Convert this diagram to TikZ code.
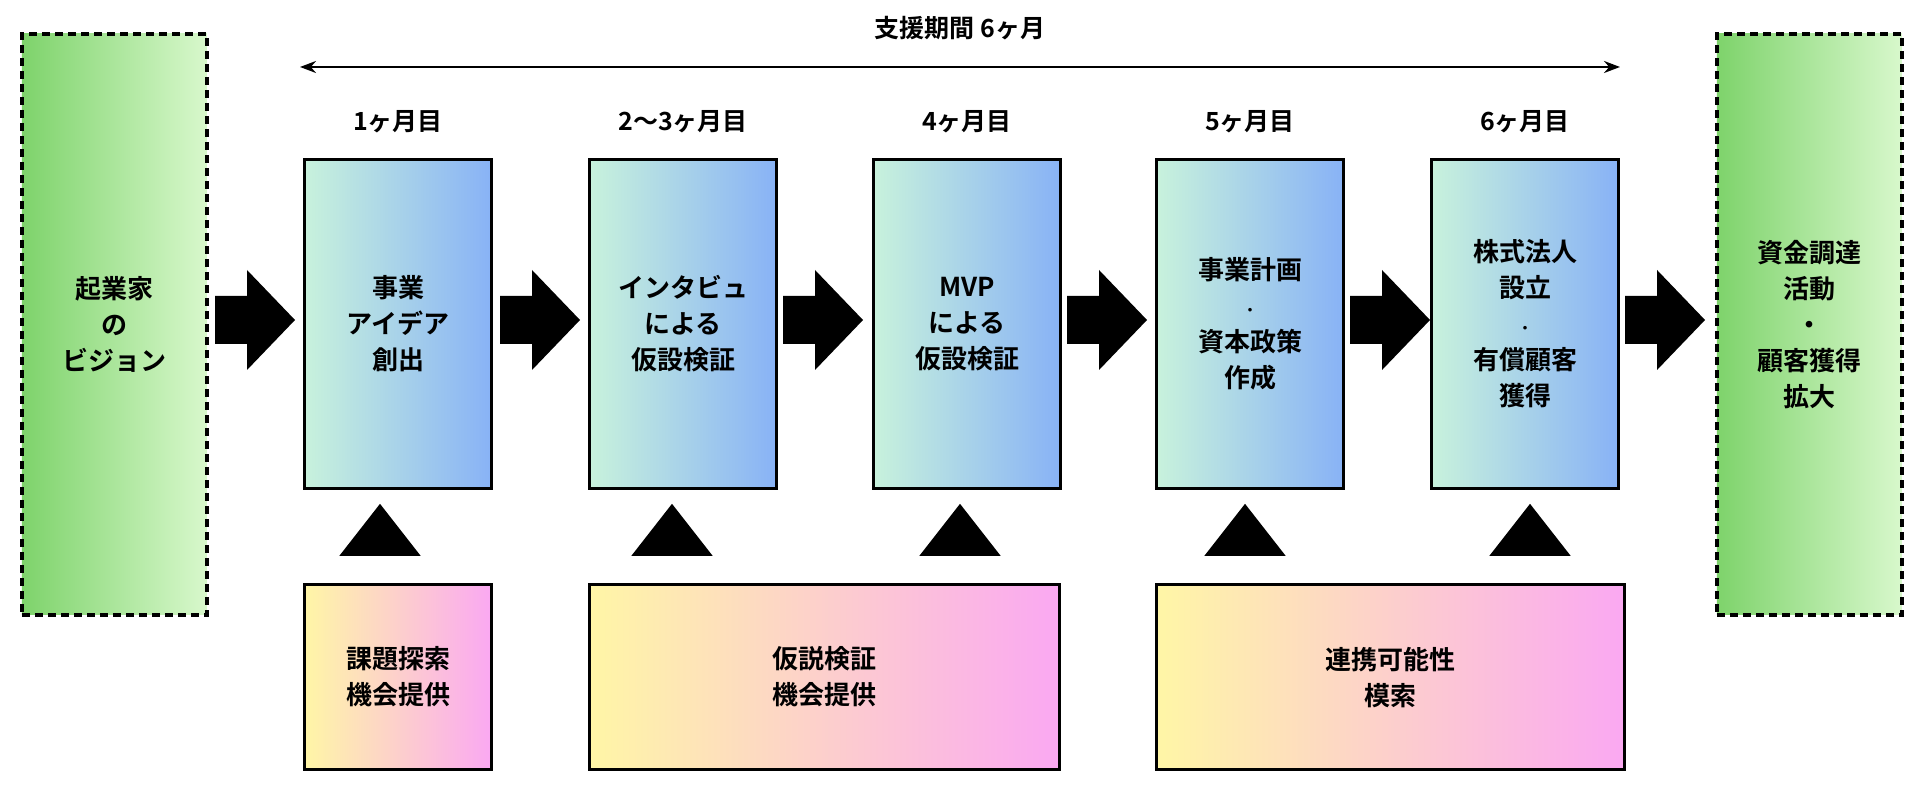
\documentclass[tikz,border=0pt]{standalone}
\usepackage{fontspec}
\setmainfont{Noto Sans CJK JP}[BoldFont={* Bold}]
\usetikzlibrary{shapes.geometric,arrows.meta}
\definecolor{gdark}{HTML}{7ED36B}\definecolor{glight}{HTML}{D8F8CC}
\definecolor{bl}{HTML}{C8F2DC}\definecolor{br}{HTML}{88B2F6}
\definecolor{yl}{HTML}{FFF6A6}\definecolor{pk}{HTML}{FAA8F2}
\begin{document}
\begin{tikzpicture}[x=0.5pt,y=-0.5pt,font=\bfseries\fontsize{13}{18}\selectfont,
 gbox/.style={draw,dash pattern=on 4pt off 2.5pt,line width=1.8pt,left color=gdark,right color=glight,minimum width=92.5pt,minimum height=290.5pt,align=center,anchor=north west},
 bbox/.style={draw,line width=1.6pt,left color=bl,right color=br,minimum width=93.5pt,minimum height=164.5pt,align=center,anchor=north west},
 ybox/.style={draw,line width=1.6pt,left color=yl,right color=pk,minimum height=92.5pt,align=center,anchor=north west},
 tri/.style={isosceles triangle,shape border rotate=90,fill=black,minimum width=40pt,minimum height=26pt,isosceles triangle apex angle=76,inner sep=0pt},
 lab/.style={font=\bfseries\fontsize{12.5}{14}\selectfont}]
\useasboundingbox (0,0) rectangle (1920,785);
\node[gbox] (L) at (20,32) {起業家\\の\\ビジョン};
\node[gbox] (R) at (1715,32) {資金調達\\活動\\・\\顧客獲得\\拡大};
\coordinate (ta) at (300,67); \coordinate (tb) at (1620,67);
\draw[{Stealth[length=8pt]}-{Stealth[length=8pt]},line width=1.2pt] (ta) -- (tb);
\node[lab] (tt) at (960,28) {支援期間 6ヶ月};
\node[bbox] (b1) at (303,158) {事業\\アイデア\\創出};
\node[bbox] (b2) at (588,158) {インタビュ\\による\\仮設検証};
\node[bbox] (b3) at (872,158) {MVP\\による\\仮設検証};
\node[bbox] (b4) at (1155,158) {事業計画\\{\fontsize{7}{8}\selectfont ・}\\資本政策\\作成};
\node[bbox] (b5) at (1430,158) {株式法人\\設立\\{\fontsize{7}{8}\selectfont ・}\\有償顧客\\獲得};
\foreach \n/\t in {b1/1ヶ月目,b2/2〜3ヶ月目,b3/4ヶ月目,b4/5ヶ月目,b5/6ヶ月目}
 \node[lab] (m\n) at ([yshift=18pt]\n.north) {\t};
\foreach \x in {215,500,783,1067,1350,1625}
 \fill (\x,296) -- (\x+32,296) -- (\x+32,270) -- (\x+80,320) -- (\x+32,370) -- (\x+32,344) -- (\x,344) -- cycle;
\foreach \x/\i in {380/1,672/2,960/3,1245/4,1530/5}
 \node[tri] (t\i) at (\x,536) {};
\node[ybox,minimum width=93.5pt] (y1) at (303,583) {課題探索\\機会提供};
\node[ybox,minimum width=235pt] (y2) at (588,583) {仮説検証\\機会提供};
\node[ybox,minimum width=234pt] (y3) at (1155,583) {連携可能性\\模索};
\end{tikzpicture}
\end{document}
